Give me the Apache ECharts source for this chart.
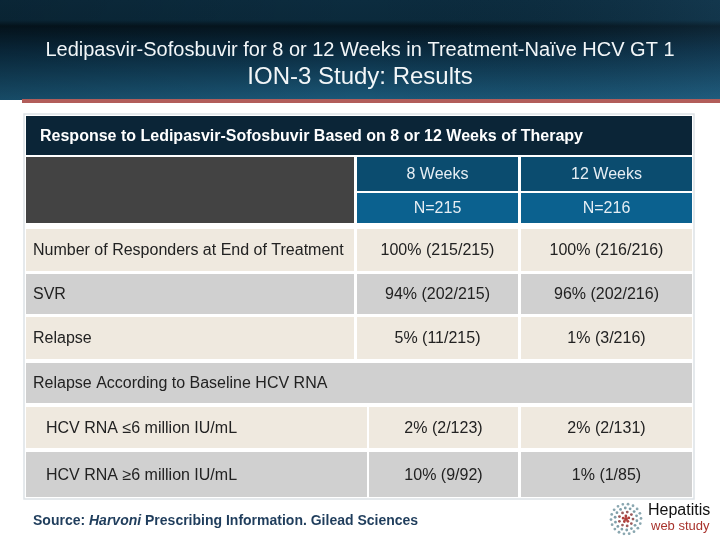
<!DOCTYPE html>
<html><head><meta charset="utf-8">
<script src="https://cdn.jsdelivr.net/npm/echarts@6/dist/echarts.min.js"></script>
<style>html,body{margin:0;padding:0;background:#fff}#c{width:720px;height:540px}</style>
</head><body><div id="c"></div>
<script>
// ---- data ----
const slideTitle1 = 'Ledipasvir-Sofosbuvir for 8 or 12 Weeks in Treatment-Naïve HCV GT 1';
const slideTitle2 = 'ION-3 Study: Results';
const tableTitle = 'Response to Ledipasvir-Sofosbuvir Based on 8 or 12 Weeks of Therapy';
const groups = ['8 Weeks', '12 Weeks'];
const groupN = ['N=215', 'N=216'];
const rowLabels = ['Number of Responders at End of Treatment', 'SVR', 'Relapse'];
const week8 = ['100% (215/215)', '94% (202/215)', '5% (11/215)'];
const week12 = ['100% (216/216)', '96% (202/216)', '1% (3/216)'];
const subHeader = 'Relapse According to Baseline HCV RNA';
const subLabels = ['HCV RNA ≤6 million IU/mL', 'HCV RNA ≥6 million IU/mL'];
const sub8 = ['2% (2/123)', '10% (9/92)'];
const sub12 = ['2% (2/131)', '1% (1/85)'];
const sourceText = ['Source: ', 'Harvoni', ' Prescribing Information. Gilead Sciences'];

// ---- layout ----
const L = {
  colsTop: [26, 354, 357, 518, 521, 692],
  colsSub: [26, 367, 369, 518, 521, 692],
  title: [116, 155],
  h1: [157, 191], h2: [193, 223],
  rows: [[229, 271], [274, 314], [317, 359]],
  sub: [363, 403],
  subRows: [[407, 448], [452, 497]]
};
const C = {
  title: '#0b2537', dark: '#434343', blue1: '#0b4c6f', blue2: '#0b618f',
  beige: '#efe9df', gray: '#d0d0d0', text: '#222222', white: '#ffffff'
};
const FONT = '"Liberation Sans", Arial, sans-serif';

const cells = [];
function cell(x0, x1, y, fill, text, align, color, extra) {
  cells.push(Object.assign({x0, x1, y0: y[0], y1: y[1], fill, text, align, color, size: 16, weight: 'normal', pad: 7}, extra || {}));
}
const ct = L.colsTop, cs = L.colsSub;
cell(ct[0], ct[5], L.title, C.title, tableTitle, 'left', C.white, {weight: 'bold', pad: 14, size: 16});
cell(ct[0], ct[1], [L.h1[0], L.h2[1]], C.dark, '', 'left', C.white);
groups.forEach((g, i) => cell(ct[2 + 2 * i], ct[3 + 2 * i], L.h1, C.blue1, g, 'center', '#e6eef4'));
groupN.forEach((g, i) => cell(ct[2 + 2 * i], ct[3 + 2 * i], L.h2, C.blue2, g, 'center', '#e6eef4'));
rowLabels.forEach((lab, r) => {
  const f = r % 2 === 0 ? C.beige : C.gray;
  cell(ct[0], ct[1], L.rows[r], f, lab, 'left', C.text);
  cell(ct[2], ct[3], L.rows[r], f, week8[r], 'center', C.text);
  cell(ct[4], ct[5], L.rows[r], f, week12[r], 'center', C.text);
});
cell(ct[0], ct[5], L.sub, C.gray, subHeader, 'left', C.text);
subLabels.forEach((lab, r) => {
  const f = r % 2 === 0 ? C.beige : C.gray;
  cell(cs[0], cs[1], L.subRows[r], f, lab, 'left', C.text, {pad: 20});
  cell(cs[2], cs[3], L.subRows[r], f, sub8[r], 'center', C.text);
  cell(cs[4], cs[5], L.subRows[r], f, sub12[r], 'center', C.text);
});

// logo dots (decorative)
const logoDots = [];
const lcx = 626, lcy = 519;
[[15, 18, '#8aa7b0'], [11, 14, '#7f9ea8'], [7, 9, '#9c5b5b'], [3, 5, '#b0403c']].forEach(([r, n, col]) => {
  for (let k = 0; k < n; k++) {
    const a = (k / n) * Math.PI * 2 + r * 0.3;
    logoDots.push({type: 'circle', shape: {cx: lcx + r * Math.cos(a), cy: lcy + r * Math.sin(a), r: 1.4}, style: {fill: col}, silent: true});
  }
});
logoDots.push({type: 'circle', shape: {cx: lcx, cy: lcy, r: 2}, style: {fill: '#b0403c'}});

const chart = echarts.init(document.getElementById('c'), null, {renderer: 'canvas'});
chart.setOption({
  animation: false,
  backgroundColor: '#ffffff',
  grid: {left: 0, right: 0, top: 0, bottom: 0},
  xAxis: {type: 'value', min: 0, max: 720, show: false},
  yAxis: {type: 'value', min: 0, max: 540, inverse: true, show: false},
  graphic: [
    {type: 'rect', z: -10, shape: {x: 0, y: 0, width: 720, height: 100},
      style: {fill: new echarts.graphic.LinearGradient(0, 0, 0, 1, [
        {offset: 0, color: '#0c2c3f'}, {offset: 0.2, color: '#0b2a3c'},
        {offset: 0.26, color: '#05151f'}, {offset: 0.5, color: '#0a2b40'},
        {offset: 1, color: '#1b5878'}])}},
    {type: 'rect', z: -9, shape: {x: 0, y: 0, width: 720, height: 100},
      style: {fill: new echarts.graphic.LinearGradient(0, 0, 1, 0, [
        {offset: 0, color: 'rgba(0,0,0,0.15)'}, {offset: 0.5, color: 'rgba(0,0,0,0)'},
        {offset: 1, color: 'rgba(60,120,160,0.15)'}])}},
    {type: 'rect', z: -8, shape: {x: 22, y: 99, width: 698, height: 4}, style: {fill: '#b25d5a'}},
    {type: 'text', left: 'center', top: 40, style: {text: slideTitle1, fill: '#f2f6f8', font: '20px ' + FONT}},
    {type: 'text', left: 'center', top: 65, style: {text: slideTitle2, fill: '#f2f6f8', font: '24px ' + FONT}},
    {type: 'rect', z: -5, shape: {x: 24, y: 114, width: 670, height: 385}, style: {fill: '#ffffff', stroke: '#dde2e6', lineWidth: 1.5}},
    {type: 'text', left: 33, top: 514, style: {
      text: '{b|' + sourceText[0] + '}{i|' + sourceText[1] + '}{b|' + sourceText[2] + '}',
      rich: {
        b: {fill: '#1f3d5c', font: 'bold 14px ' + FONT},
        i: {fill: '#1f3d5c', font: 'italic bold 14px ' + FONT}
      }}},
    {type: 'text', left: 648, top: 503, style: {text: 'Hepatitis', fill: '#111', font: '16px ' + FONT}},
    {type: 'text', left: 651, top: 520, style: {text: 'web study', fill: '#a8322c', font: '13px ' + FONT}},
    ...logoDots
  ],
  series: [{
    type: 'custom',
    coordinateSystem: 'cartesian2d',
    data: cells.map((c, i) => [c.x0, c.y0, i]),
    renderItem: function (params, api) {
      const c = cells[api.value(2)];
      const p0 = api.coord([c.x0, c.y0]);
      const p1 = api.coord([c.x1, c.y1]);
      const children = [{type: 'rect', shape: {x: p0[0], y: p0[1], width: p1[0] - p0[0], height: p1[1] - p0[1]}, style: {fill: c.fill}}];
      if (c.text) {
        children.push({type: 'text', style: {
          text: c.text,
          x: c.align === 'center' ? (p0[0] + p1[0]) / 2 : p0[0] + c.pad,
          y: (p0[1] + p1[1]) / 2 + 1,
          align: c.align, verticalAlign: 'middle',
          fill: c.color, font: c.weight + ' ' + c.size + 'px ' + FONT
        }});
      }
      return {type: 'group', children};
    }
  }]
});
</script></body></html>
